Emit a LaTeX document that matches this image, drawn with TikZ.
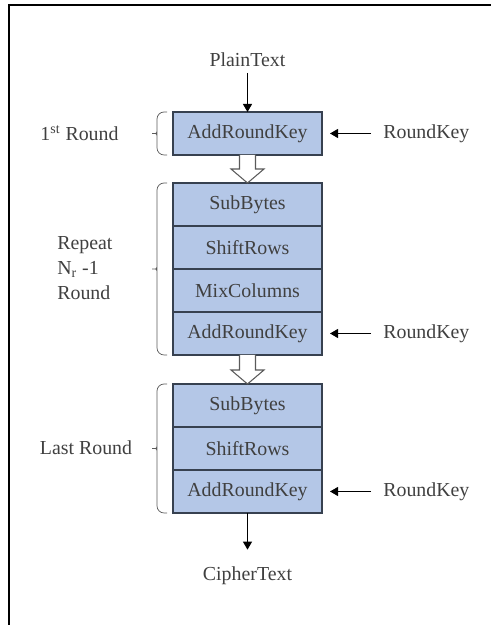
\documentclass[tikz,border=0pt]{standalone}
\usepackage{fontspec}
\setmainfont{Liberation Serif}
\usepackage{tikz}
\usetikzlibrary{arrows.meta,positioning,calc}
\definecolor{aesblue}{RGB}{180,199,231}
\definecolor{aesedge}{RGB}{55,65,80}
\definecolor{aestext}{RGB}{64,64,64}
\definecolor{aesgray}{RGB}{90,90,90}
% left brace from the top corner #1 to the bottom corner #2 of a block group
\newcommand{\grpbrace}[2]{%
  \coordinate (bm) at ($([xshift=-0.32cm]#1)!0.5!([xshift=-0.32cm]#2)$);
  \draw[brc] ([xshift=-0.12cm]#1) -- ([xshift=-0.32cm]#1) -- ([yshift=0.1cm]bm)
    to[out=-90, in=0] ([xshift=-0.18cm]bm) to[out=0, in=90] ([yshift=-0.1cm]bm)
    -- ([xshift=-0.32cm]#2) -- ([xshift=-0.12cm]#2);
}
\tikzset{
  blk/.style={draw=aesedge, fill=aesblue, thick, minimum width=2.98cm, minimum height=0.86cm,
      inner sep=0pt, outer sep=0pt, text=aestext},
  klab/.style={inner sep=0pt, text=aestext},
  rlab/.style={inner sep=0pt, text=aestext, align=left},
  karr/.style={-{Triangle[length=1.6mm, width=1.8mm]}, black, semithick},
  hol/.style={draw=aesgray, fill=white, semithick, line join=miter},
  brc/.style={aesgray, thin, rounded corners=4pt},
}

\begin{document}
\begin{tikzpicture}[font=\fontsize{11.3}{14.2}\selectfont]
  \useasboundingbox (0,0) rectangle (9.82,12.5);
  \draw[line width=1.1pt] (0.18,0) -- (0.18,12.4) -- (9.82,12.4);
  % first round
  \node[klab] (pt) at (4.95,11.31) {PlainText};
  \node[blk] (k0) at (4.95,9.83) {AddRoundKey};
  % repeated rounds
  \node[blk, below=0.56cm of k0] (m1) {SubBytes};
  \node[blk, below=0pt of m1] (m2) {ShiftRows};
  \node[blk, below=0pt of m2] (m3) {MixColumns};
  \node[blk, below=0pt of m3] (m4) {AddRoundKey};
  % last round
  \node[blk, below=0.58cm of m4] (l1) {SubBytes};
  \node[blk, below=0pt of l1] (l2) {ShiftRows};
  \node[blk, below=0pt of l2] (l3) {AddRoundKey};
  \node[klab] (ct) at (4.95,0.99) {CipherText};
  % round keys
  \node[klab, right=1.22cm of k0] (rk0) {RoundKey};
  \node[klab, right=1.22cm of m4] (rk1) {RoundKey};
  \node[klab, right=1.22cm of l3] (rk2) {RoundKey};
  \draw[karr, shorten <=0.24cm, shorten >=0.16cm] (rk0) -- (k0);
  \draw[karr, shorten <=0.24cm, shorten >=0.16cm] (rk1) -- (m4);
  \draw[karr, shorten <=0.24cm, shorten >=0.16cm] (rk2) -- (l3);
  \draw[karr, shorten <=0.12cm] (pt) -- (k0);
  \draw[karr, shorten >=0.33cm] (l3) -- (ct);
  % hollow arrows
  \draw[hol] ($(k0.south)+(-0.16,0)$) -- ++(0,-0.28) -- ++(-0.17,0) -- (m1.north)
    -- ($(k0.south)+(0.33,-0.28)$) -- ++(-0.17,0) -- ++(0,0.28);
  \draw[hol] ($(m4.south)+(-0.16,0)$) -- ++(0,-0.3) -- ++(-0.17,0) -- (l1.north)
    -- ($(m4.south)+(0.33,-0.3)$) -- ++(-0.17,0) -- ++(0,0.3);
  % braces
  \grpbrace{k0.north west}{k0.south west}
  \grpbrace{m1.north west}{m4.south west}
  \grpbrace{l1.north west}{l3.south west}
  \node[rlab] (r0) at (1.59,9.83) {1\textsuperscript{st} Round};
  \node[rlab, anchor=west] (r1) at (1.14,7.13) {Repeat\\N\textsubscript{r} -1\\Round};
  \node[rlab] (r2) at (1.72,3.55) {Last Round};
\end{tikzpicture}
\end{document}
